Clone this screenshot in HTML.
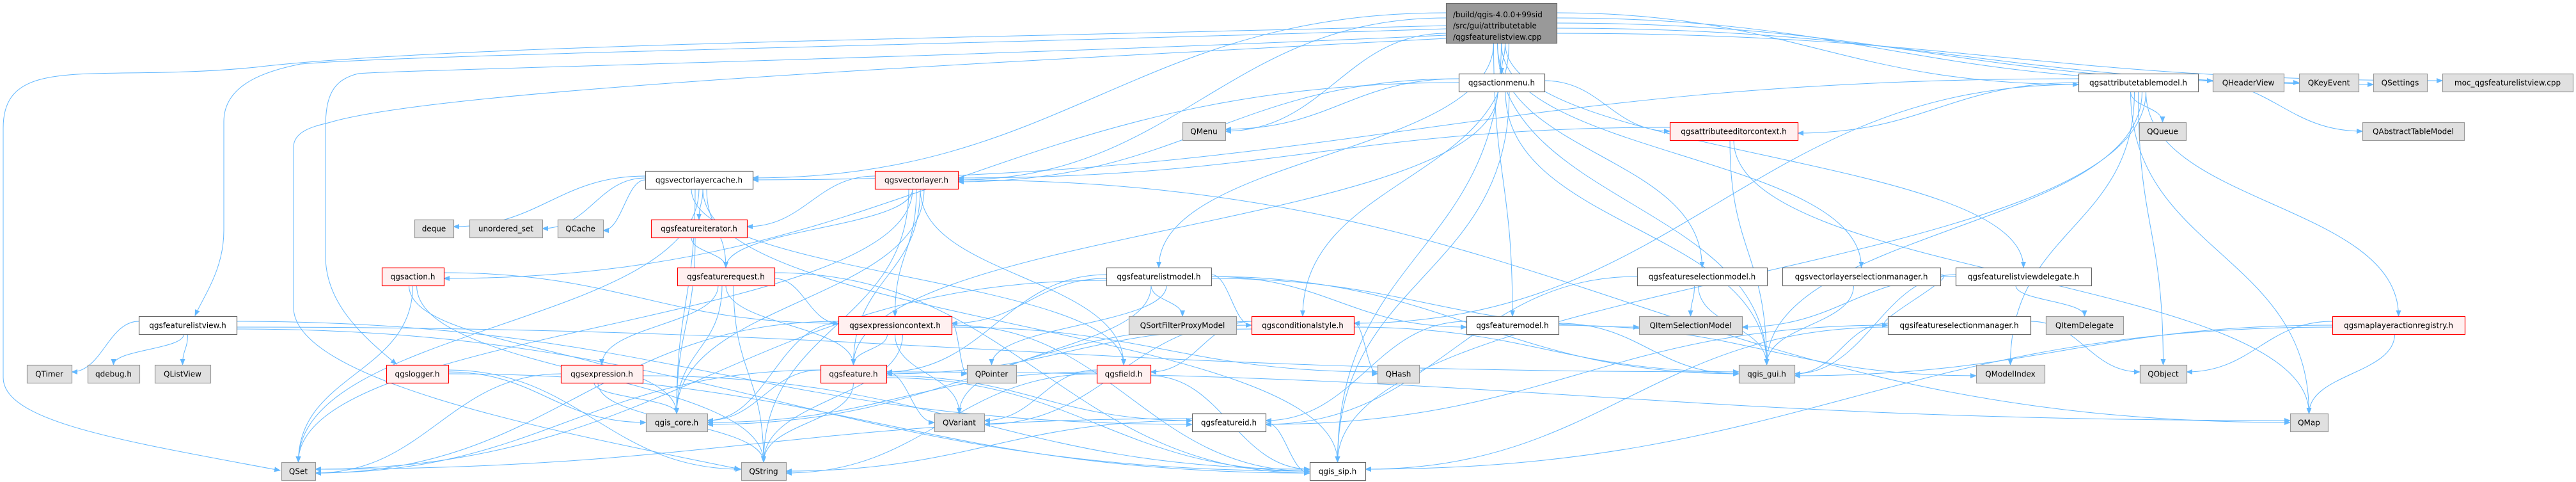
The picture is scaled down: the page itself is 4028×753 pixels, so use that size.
<!DOCTYPE html>
<html><head><meta charset="utf-8">
<style>
html,body{margin:0;padding:0;background:#fff;}
svg{display:block;}
text{font-family:"DejaVu Sans","Liberation Sans",sans-serif;font-size:12px;fill:#000;}
</style></head>
<body>
<svg id="s" width="4028" height="753" viewBox="0 0 4028 753" xmlns="http://www.w3.org/2000/svg">
<defs>
<marker id="a" viewBox="0 0 10 10" refX="9" refY="5" markerWidth="10" markerHeight="10" markerUnits="userSpaceOnUse" orient="auto">
<path d="M0,1 L10,5 L0,9 z" fill="#63b8ff"/>
</marker>
</defs>
<g id="edges" fill="none" stroke="#63b8ff" stroke-width="1">
<path d="M2261,40 C1500,60 700,70 400,105 C150,130 5,80 5,200 L5,590 C5,660 200,690 438,735" marker-end="url(#a)"/>
<path d="M2261,45 C1500,70 650,85 470,100 C420,110 350,130 350,190 L350,360 C350,420 320,460 305,493" marker-end="url(#a)"/>
<path d="M2261,55 C1500,90 600,110 560,115 C520,125 509,150 509,200 L509,400 C509,470 560,520 620,569" marker-end="url(#a)"/>
<path d="M2261,60 C1500,100 700,140 520,190 C505,195 459,200 459,230 L459,480 C459,600 900,680 1157,733" marker-end="url(#a)"/>
</g>
<g id="nodes"></g>
</svg>
<script>
var N={
main:[2261,2434,5,"",3,67],
actionmenu:[2281,2415,115,"qgsactionmenu.h",0],
atm:[3250,3437,115,"qgsattributetablemodel.h",0],
QHeaderView:[3460,3571,115,"QHeaderView",1],
QKeyEvent:[3595,3688,115,"QKeyEvent",1],
QSettings:[3711,3795,115,"QSettings",1],
moc:[3819,4023,115,"moc_qgsfeaturelistview.cpp",1],
QMenu:[1849,1916,191,"QMenu",1],
aec:[2611,2811,191,"qgsattributeeditorcontext.h",2],
QQueue:[3345,3418,191,"QQueue",1],
QATM:[3694,3853,191,"QAbstractTableModel",1],
vlc:[1009,1177,267,"qgsvectorlayercache.h",0],
vl:[1368,1498,267,"qgsvectorlayer.h",2],
deque:[648,709,343,"deque",1],
uset:[734,848,343,"unordered_set",1],
QCache:[872,943,343,"QCache",1],
fit:[1018,1168,343,"qgsfeatureiterator.h",2],
action:[597,694,418,"qgsaction.h",2],
freq:[1059,1211,418,"qgsfeaturerequest.h",2],
flm:[1730,1894,418,"qgsfeaturelistmodel.h",0],
fsm:[2560,2763,418,"qgsfeatureselectionmodel.h",0],
vlsm:[2787,3034,418,"qgsvectorlayerselectionmanager.h",0],
flvd:[3058,3270,418,"qgsfeaturelistviewdelegate.h",0],
flv:[217,370,494,"qgsfeaturelistview.h",0],
ectx:[1311,1488,494,"qgsexpressioncontext.h",2],
QSFPM:[1765,1933,494,"QSortFilterProxyModel",1],
cstyle:[1957,2117,494,"qgsconditionalstyle.h",2],
fmodel:[2293,2437,494,"qgsfeaturemodel.h",0],
QISM:[2563,2724,494,"QItemSelectionModel",1],
ifsm:[2952,3175,494,"qgsifeatureselectionmanager.h",0],
QItemDelegate:[3199,3320,494,"QItemDelegate",1],
mlar:[3647,3854,494,"qgsmaplayeractionregistry.h",2],
QTimer:[42,112,570,"QTimer",1],
qdebug:[137,218,570,"qdebug.h",1],
QListView:[242,329,570,"QListView",1],
logger:[604,701,570,"qgslogger.h",2],
expr:[877,1005,570,"qgsexpression.h",2],
feat:[1283,1386,570,"qgsfeature.h",2],
QPointer:[1512,1589,570,"QPointer",1],
field:[1715,1799,570,"qgsfield.h",2],
QHash:[2154,2219,570,"QHash",1],
gui:[2719,2806,570,"qgis_gui.h",1],
QModelIndex:[3090,3197,570,"QModelIndex",1],
QObject:[3346,3419,570,"QObject",1],
core:[1010,1106,646,"qgis_core.h",1],
QVariant:[1461,1539,646,"QVariant",1],
fid:[1864,1979,646,"qgsfeatureid.h",0],
QMap:[3581,3640,646,"QMap",1],
QSet:[440,493,722,"QSet",1],
QString:[1159,1229,722,"QString",1],
sip:[2048,2135,722,"qgis_sip.h",0]
};
var E={
main:["vlc","vl","sip","actionmenu","QMenu","atm","QHeaderView","QKeyEvent","QSettings","moc","flm","fsm","vlsm","flvd","cstyle","fmodel","gui"],
actionmenu:["QMenu","aec","action","gui","sip","vl","feat"],
atm:["QQueue","QATM","aec","cstyle","mlar","QMap","QModelIndex","QObject","gui","sip","vlc"],
aec:["vl","gui","QMap"],
vlc:["deque","uset","QCache","fit","freq","field","core","QSet","sip"],
vl:["fit","freq","ectx","feat","core","QString","QSet","QMap","field"],
fit:["freq","core"],
freq:["expr","core","feat","ectx","QString","sip"],
action:["ectx","core","QSet","QString"],
flv:["QTimer","qdebug","QListView","gui","sip","fid"],
logger:["QString","core","sip"],
ectx:["feat","QPointer","QVariant","QHash","QString","QSet","core","sip"],
expr:["core","QString","QSet","sip"],
feat:["core","QVariant","QString","fid","sip","QSet","QMap"],
field:["QVariant","core","QString","sip"],
fid:["QSet","QString","sip"],
flm:["QSFPM","cstyle","fmodel","ectx","QPointer","QVariant","feat","gui","QISM","QSet"],
cstyle:["field","QHash","core","gui","feat","QVariant"],
fmodel:["fid","gui","QModelIndex"],
fsm:["QISM","gui","fid"],
vlsm:["gui","ifsm"],
flvd:["QItemDelegate","gui","QISM"],
ifsm:["QObject","gui","fid","sip"],
mlar:["QObject","QMap","gui","sip"]
};
var NS="http://www.w3.org/2000/svg";
function el(t,a,p){var e=document.createElementNS(NS,t);for(var k in a)e.setAttribute(k,a[k]);p.appendChild(e);return e;}
var eg=document.getElementById("edges"),ng=document.getElementById("nodes");
function H(n){return n[5]?n[5]-n[2]:28;}
for(var s in E){var a=N[s],ah=H(a);E[s].forEach(function(t,i){var b=N[t],bh=H(b);
 var acx=(a[0]+a[1])/2, bcx=(b[0]+b[1])/2;
 var sy0=a[2]+ah, ty=b[2];
 var dx=bcx-acx, dy=ty-sy0, d;
 if(Math.abs(dx)>2.5*dy){
   var dir=dx>0?1:-1;
   var sx=dir>0?a[1]:a[0], sy=a[2]+ah/2+((i%5)-2)*(ah>30?8:3);
   var ex=dir>0?b[0]:b[1], ey=b[2]+bh/2+((i%3)-1)*3;
   var L=Math.abs(ex-sx);
   d="M"+sx+","+sy+" C"+(sx+dir*L*0.45)+","+sy+" "+(ex-dir*L*0.45)+","+ey+" "+ex+","+ey;
 } else {
   var sx=acx+((i%5)-2)*6, sy=sy0;
   d="M"+sx+","+sy+" C"+sx+","+(sy+dy*0.5)+" "+bcx+","+(ty-dy*0.5)+" "+bcx+","+ty;
 }
 el("path",{d:d,"marker-end":"url(#a)"},eg);
});}
for(var k in N){var n=N[k],h=H(n),ty=n[4];
 var fill=ty==0?"#ffffff":ty==1?"#e0e0e0":ty==2?"#fff0f0":"#999999";
 var st=ty==0?"#666666":ty==1?"#999999":ty==2?"#ff0000":"#666666";
 el("rect",{x:n[0]+0.5,y:n[2]+0.5,width:n[1]-n[0],height:h,fill:fill,stroke:st,"stroke-width":1.2},ng);
 if(ty==3){["/build/qgis-4.0.0+99sid","/src/gui/attributetable","/qgsfeaturelistview.cpp"].forEach(function(l,i){
   var t=el("text",{x:n[0]+11,y:n[2]+22+i*17.5},ng);t.textContent=l;});}
 else{var t=el("text",{x:(n[0]+n[1])/2,y:n[2]+18.5,"text-anchor":"middle"},ng);t.textContent=n[3];}
}
</script>
</body></html>
